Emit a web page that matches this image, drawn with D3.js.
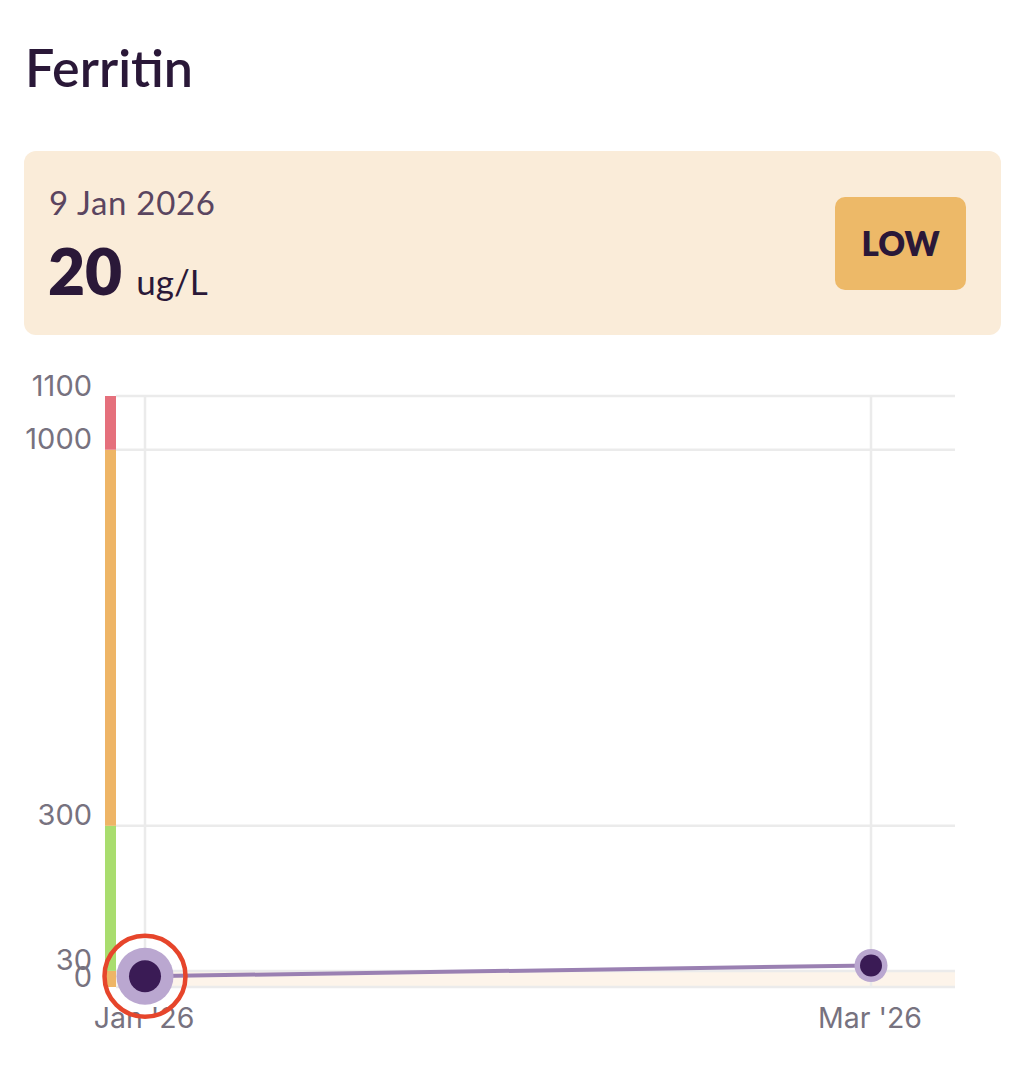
<!DOCTYPE html>
<html><head><meta charset="utf-8">
<script src="https://cdn.jsdelivr.net/npm/d3@7"></script>
<style>
html,body{margin:0;padding:0;background:#fff;}
svg{display:block;}
</style></head>
<body>
<svg id="chart" width="1021" height="1074"></svg>
<script>
// ---- data ----
const title = "Ferritin";
const unit = "ug/L";
const dates = ["2026-01-09", "2026-03-06"];
const values = [20, 40];
const yTickValues = [0, 30, 300, 1000, 1100];
const xTickLabels = ["Jan '26", "Mar '26"];
const rangeBreaks = [0, 30, 300, 1000, 1100];
const rangeColors = ["#eeb566", "#a9dd6e", "#eeb566", "#e5707c"];
const latestLabel = "9 Jan 2026";
const latestValue = 20;
const status = "LOW";
const selectedIndex = 0;

const svg = d3.select("#chart");
const font = "Lato, 'Noto Sans', sans-serif";
const axisFont = "Inter, 'Noto Sans', sans-serif";

// title
svg.append("text").attr("x", 25).attr("y", 87)
  .attr("font-family", font).attr("font-size", 52).attr("font-weight", 600)
  .attr("fill", "#2a1838").attr("textLength", 168).text(title);

// card
svg.append("rect").attr("x", 24).attr("y", 151).attr("width", 977).attr("height", 184)
  .attr("rx", 12).attr("fill", "#faecd9");
svg.append("text").attr("x", 49).attr("y", 215)
  .attr("font-family", font).attr("font-size", 33).attr("fill", "#5a4560")
  .attr("textLength", 166).text(latestLabel);
const vt = svg.append("text").attr("x", 48).attr("y", 295).attr("font-family", font).attr("fill", "#2a1838");
vt.append("tspan").attr("font-size", 64).attr("font-weight", 800).text(latestValue);
vt.append("tspan").attr("font-size", 35).attr("dx", 14).text(unit);
svg.append("rect").attr("x", 835).attr("y", 197).attr("width", 131).attr("height", 93)
  .attr("rx", 10).attr("fill", "#edb968");
svg.append("text").attr("x", 900.5).attr("y", 256).attr("text-anchor", "middle")
  .attr("font-family", font).attr("font-size", 33).attr("font-weight", 800)
  .attr("fill", "#2a1838").text(status);

// scales
const parse = d3.timeParse("%Y-%m-%d");
const xDates = dates.map(parse);
const x = d3.scaleTime().domain(xDates).range([145, 871]);
const y = d3.scaleLinear().domain([0, 1100]).range([987, 396]);
const plotLeft = 116, plotRight = 955;

// low-range band (0-30)
svg.append("rect").attr("x", plotLeft).attr("width", plotRight - plotLeft)
  .attr("y", y(30)).attr("height", y(0) - y(30)).attr("fill", "#fdf4ea");

// horizontal gridlines
svg.append("g").selectAll("line").data(yTickValues).join("line")
  .attr("x1", plotLeft).attr("x2", plotRight)
  .attr("y1", d => y(d)).attr("y2", d => y(d))
  .attr("stroke", "#ebebeb").attr("stroke-width", 2.5);
// vertical gridlines
svg.append("g").selectAll("line").data(xDates).join("line")
  .attr("x1", d => x(d)).attr("x2", d => x(d))
  .attr("y1", y(1100)).attr("y2", y(0))
  .attr("stroke", "#ebebeb").attr("stroke-width", 2.5);

// range colour bar
const segs = d3.range(rangeColors.length).map(i => ({a: rangeBreaks[i], b: rangeBreaks[i+1], c: rangeColors[i]}));
svg.append("g").selectAll("rect").data(segs).join("rect")
  .attr("x", 105).attr("width", 11)
  .attr("y", d => y(d.b)).attr("height", d => y(d.a) - y(d.b))
  .attr("fill", d => d.c);

// y axis labels
svg.append("g").selectAll("text").data(yTickValues).join("text")
  .attr("x", 92).attr("y", d => y(d) - 0.5)
  .attr("text-anchor", "end")
  .attr("font-family", axisFont).attr("font-size", 29).attr("fill", "#77727f")
  .text(d => d);

// x axis labels
svg.append("g").selectAll("text").data(xDates).join("text")
  .attr("x", d => x(d) - 1).attr("y", 1028)
  .attr("text-anchor", "middle")
  .attr("font-family", axisFont).attr("font-size", 28.5).attr("fill", "#77727f")
  .text((d, i) => xTickLabels[i]);

// line
const pts = xDates.map((d, i) => ({d, v: values[i]}));
svg.append("path").datum(pts)
  .attr("d", d3.line().x(p => x(p.d)).y(p => y(p.v)))
  .attr("fill", "none").attr("stroke", "#9a80b2").attr("stroke-width", 4);

// points
const g = svg.append("g").selectAll("g").data(pts).join("g")
  .attr("transform", p => `translate(${x(p.d)},${y(p.v)})`);
g.filter((p, i) => i === selectedIndex).append("circle")
  .attr("r", 40.5).attr("fill", "none").attr("stroke", "#e6452b").attr("stroke-width", 4.5);
g.append("circle").attr("r", (p, i) => i === selectedIndex ? 28.5 : 16.5).attr("fill", "#baa7d0");
g.append("circle").attr("r", (p, i) => i === selectedIndex ? 16 : 11).attr("fill", "#3a1b55");
</script>
</body></html>
